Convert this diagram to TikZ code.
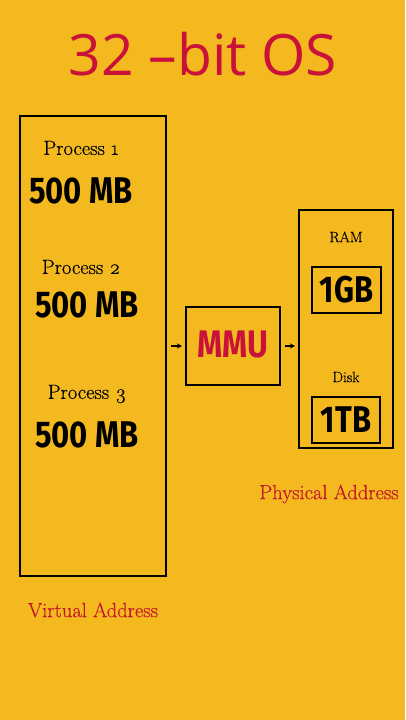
\documentclass[tikz,border=0pt]{standalone}
\usepackage{fontspec}
\usetikzlibrary{arrows.meta}
\newfontfamily\titlefont{Open Sans}
\newfontfamily\heavyfont{Fira Sans}
\newfontfamily\procfont{Latin Modern Roman}[FakeBold=0.35, Numbers=OldStyle]
\definecolor{bg}{RGB}{245,185,32}
\definecolor{redtxt}{RGB}{200,18,58}
\definecolor{redlbl}{RGB}{195,22,40}
\newcommand{\tallt}[1]{\scalebox{1}[1.2]{#1}}
\tikzset{
  box/.style={draw=black, line width=2pt, inner sep=0pt},
  proc/.style={font=\procfont\fontsize{20.5}{22}\selectfont, inner sep=0pt},
  size/.style={font=\heavyfont\bfseries\fontsize{31}{34}\selectfont, inner sep=0pt},
  small/.style={font=\procfont\fontsize{15}{17}\selectfont, inner sep=0pt},
  lbl/.style={font=\procfont\fontsize{20.5}{22}\selectfont, text=redlbl, inner sep=0pt},
  arr/.style={line width=1.3pt, -{Stealth[length=5pt,width=5pt]}},
}
\begin{document}
\begin{tikzpicture}[x=1pt,y=-1pt]
\fill[bg] (0,0) rectangle (405,720);
\useasboundingbox (0,0) rectangle (405,720);
\node[font=\titlefont\fontsize{57}{60}\selectfont, text=redtxt, inner sep=0pt] (title) at (203,54) {32 –bit OS};
% virtual box
\node[box, minimum width=146pt, minimum height=460pt] (virt) at (93,346) {};
\node[proc] (p1) at (81,148) {Process 1};
\node[size] (s1) at (81,191) {\tallt{500 MB}};
\node[proc] (p2) at (81,267) {Process 2};
\node[size] (s2) at (87,305) {\tallt{500 MB}};
\node[proc] (p3) at (87,394) {Process 3};
\node[size] (s3) at (87,435) {\tallt{500 MB}};
\node[lbl] (va) at (93,610) {Virtual Address};
% MMU
\node[box, minimum width=94pt, minimum height=78pt] (mmu) at (233,346) {};
\node[font=\heavyfont\bfseries\fontsize{32}{34}\selectfont, text=redtxt, inner sep=0pt] (mmut) at (233,345) {\tallt{MMU}};
% physical box
\node[box, minimum width=94pt, minimum height=238pt] (phys) at (346,329) {};
\node[small] (ram) at (346,237) {RAM};
\node[box, minimum width=69pt, minimum height=46pt] (ramb) at (346.5,290) {};
\node[size] (gb) at (346.5,290) {\tallt{1GB}};
\node[small] (disk) at (346,377) {Disk};
\node[box, minimum width=68pt, minimum height=46pt] (diskb) at (346,420) {};
\node[size] (tb) at (346,420) {\tallt{1TB}};
\node[lbl] (pa) at (329,494) {Physical Address};
% arrows
\draw[arr, shorten <=4pt, shorten >=3pt] (virt.east |- mmu.west) -- (mmu.west);
\draw[arr, shorten <=4pt, shorten >=3pt] (mmu.east) -- (mmu.east -| phys.west);
\end{tikzpicture}
\end{document}
